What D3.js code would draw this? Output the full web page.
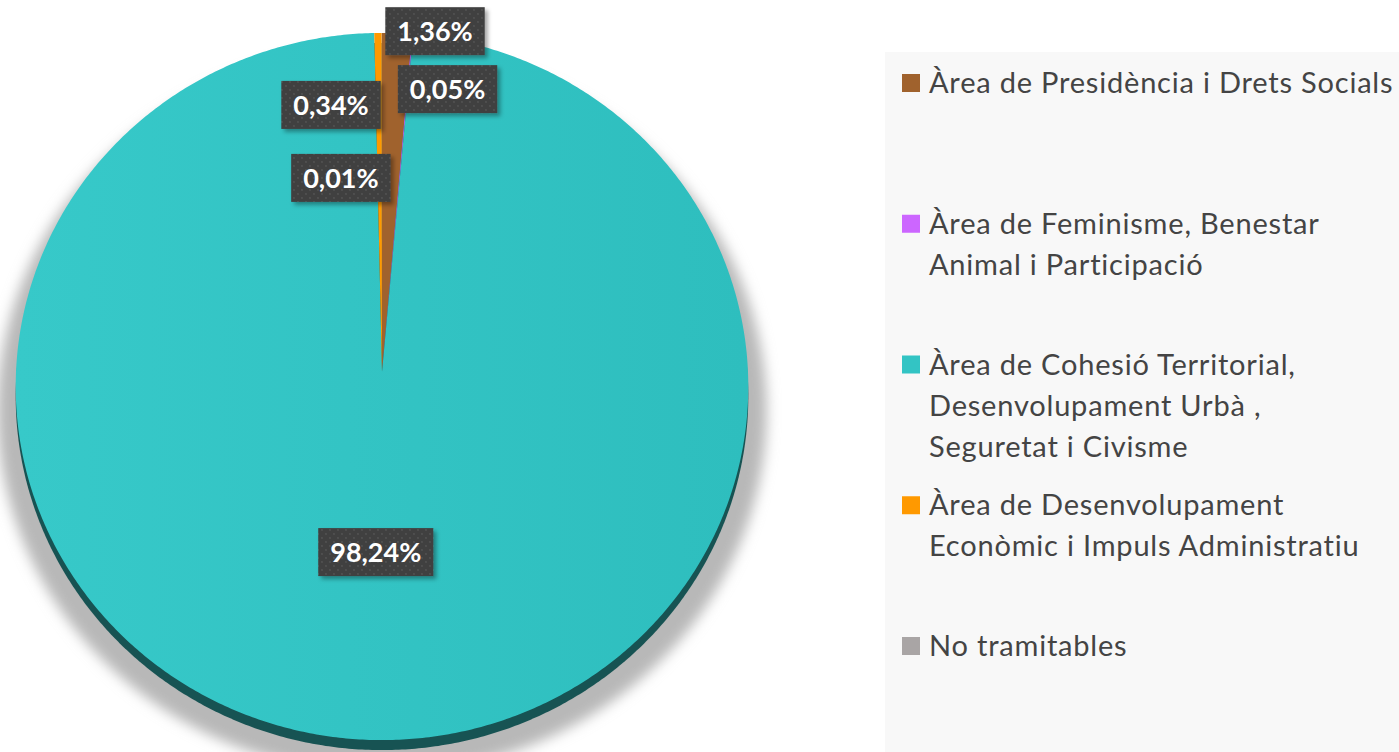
<!DOCTYPE html>
<meta charset="utf-8">
<style>
body { margin: 0; background: #fff; }
.legend text { font-family: Lato, "Open Sans", sans-serif; font-size: 29px; letter-spacing: 0.8px; fill: #444; }
.lbl text { font-family: Lato, "Open Sans", sans-serif; font-size: 27px; font-weight: 700; fill: #fff; }
</style>
<html>
<body>
<div id="chart"></div>
<script src="https://d3js.org/d3.v7.min.js"></script>
<script>

// data
var categories = ["Àrea de Presidència i Drets Socials",
                  "Àrea de Feminisme, Benestar Animal i Participació",
                  "Àrea de Cohesió Territorial, Desenvolupament Urbà , Seguretat i Civisme",
                  "Àrea de Desenvolupament Econòmic i Impuls Administratiu",
                  "No tramitables"];
var values = [1.36, 0.05, 98.24, 0.34, 0.01];
var valueLabels = ["1,36%", "0,05%", "98,24%", "0,34%", "0,01%"];
var legendLines = [["Àrea de Presidència i Drets Socials"],
                   ["Àrea de Feminisme, Benestar", "Animal i Participació"],
                   ["Àrea de Cohesió Territorial,", "Desenvolupament Urbà ,", "Seguretat i Civisme"],
                   ["Àrea de Desenvolupament", "Econòmic i Impuls Administratiu"],
                   ["No tramitables"]];
var colors = ["#a0622d", "#cc66ff", "#33c4c4", "#ff9900", "#a9a5a5"];

var W = 1399, H = 752;
var svg = d3.select("#chart").append("svg").attr("width", W).attr("height", H);
var defs = svg.append("defs");

// pie geometry (slightly tilted disc seen in perspective)
var cx = 382, cy = 372, rx = 366, ry = 353, k = -0.041, depth = 10;
function proj(a, r) {
  var u = r * Math.sin(a), v = -r * Math.cos(a), w = 1 + k * v;
  return [cx + rx * u / w, cy + ry * v / w];
}
function arcPts(a0, a1, r) {
  var n = Math.max(2, Math.ceil((a1 - a0) / (Math.PI / 360)));
  return d3.range(n + 1).map(function(i) { return proj(a0 + (a1 - a0) * i / n, r); });
}
var line = d3.line();
var outline = line(arcPts(0, 2 * Math.PI, 1)) + "Z";

// filters / patterns
var sh = defs.append("filter").attr("id", "pieShadow").attr("x", "-10%").attr("y", "-10%").attr("width", "120%").attr("height", "120%");
sh.append("feGaussianBlur").attr("stdDeviation", 6);
var bs = defs.append("filter").attr("id", "boxShadow").attr("x", "-20%").attr("y", "-20%").attr("width", "150%").attr("height", "160%");
bs.append("feDropShadow").attr("dx", 3).attr("dy", 3).attr("stdDeviation", 2).attr("flood-color", "#000").attr("flood-opacity", 0.35);
var pat = defs.append("pattern").attr("id", "dots").attr("width", 8).attr("height", 8).attr("patternUnits", "userSpaceOnUse");
pat.append("rect").attr("width", 8).attr("height", 8).attr("fill", "#404040");
pat.append("circle").attr("cx", 2).attr("cy", 2).attr("r", 0.9).attr("fill", "#555");
pat.append("circle").attr("cx", 6).attr("cy", 6).attr("r", 0.9).attr("fill", "#555");
var grad = defs.append("linearGradient").attr("id", "tealGrad").attr("x1", 0).attr("x2", 1).attr("y1", 0).attr("y2", 0);
grad.append("stop").attr("offset", "0%").attr("stop-color", "#37c9c9");
grad.append("stop").attr("offset", "100%").attr("stop-color", "#2ebebe");

// shadow
svg.append("path")
  .attr("d", outline)
  .attr("transform", "translate(" + cx + "," + (cy + 24) + ") scale(1.05,1.025) translate(" + (-cx) + "," + (-cy) + ")")
  .attr("fill", "#b8b8b8")
  .attr("filter", "url(#pieShadow)");

// side of the disc
svg.append("path")
  .attr("d", outline)
  .attr("transform", "translate(0," + depth + ")")
  .attr("fill", "#175353");

// slices
var pie = d3.pie().sort(null).value(function(d) { return d; });
var arcs = pie(values);
svg.append("g").selectAll("path")
  .data(arcs)
  .enter()
  .append("path")
    .attr("d", function(d) {
      return line([[cx, cy]].concat(arcPts(d.startAngle, d.endAngle, 1))) + "Z";
    })
    .attr("fill", function(d, i) { return i === 2 ? "url(#tealGrad)" : colors[i]; });

// data labels
var nudge = [[38, -2], [35, 55], [0, 0], [-47, 72], [-41, 145]];
var lg = svg.append("g").attr("class", "lbl");
arcs.forEach(function(d, i) {
  var mid = (d.startAngle + d.endAngle) / 2;
  var p = proj(mid, i === 2 ? 0.5 : 1);
  var x = p[0] + nudge[i][0], y = p[1] + nudge[i][1];
  var g = lg.append("g");
  var rect = g.append("rect").attr("fill", "url(#dots)").attr("filter", "url(#boxShadow)");
  var t = g.append("text").attr("x", x).attr("y", y).attr("dy", "0.36em").attr("text-anchor", "middle").text(valueLabels[i]);
  var bw = t.node().getComputedTextLength() + 24;
  rect.attr("x", x - bw / 2).attr("y", y - 24).attr("width", bw).attr("height", 48);
});

// legend
var leg = svg.append("g").attr("class", "legend");
leg.append("rect").attr("x", 885).attr("y", 52).attr("width", W - 885).attr("height", H - 52).attr("fill", "#f8f8f8");
var legY = d3.scalePoint().domain(d3.range(categories.length)).range([93, 656]);
legendLines.forEach(function(lines, i) {
  var y0 = legY(i);
  leg.append("rect").attr("x", 902).attr("y", y0 - 19).attr("width", 18).attr("height", 18).attr("fill", colors[i]);
  lines.forEach(function(s, j) {
    leg.append("text").attr("x", 929).attr("y", y0 + j * 41).text(s);
  });
});
</script>
</body>
</html>
